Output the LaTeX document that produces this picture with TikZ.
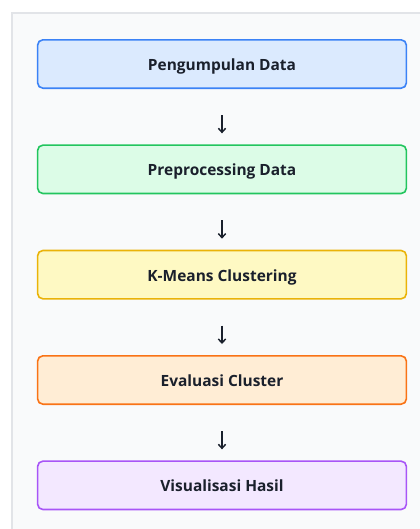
\documentclass[tikz,border=0pt]{standalone}
\usepackage{fontspec}
\setmainfont{Open Sans}
\usepackage{tikz}
\usetikzlibrary{positioning, arrows.meta}
\definecolor{panelfill}{HTML}{F9FAFB}
\definecolor{panelline}{HTML}{E2E4E8}
\definecolor{textdark}{HTML}{1A202C}
\definecolor{blueline}{HTML}{3B82F6}
\definecolor{bluefill}{HTML}{DBEAFE}
\definecolor{greenline}{HTML}{22C55E}
\definecolor{greenfill}{HTML}{DCFCE7}
\definecolor{yellowline}{HTML}{EAB308}
\definecolor{yellowfill}{HTML}{FEF9C3}
\definecolor{orangeline}{HTML}{F97316}
\definecolor{orangefill}{HTML}{FFEDD5}
\definecolor{purpleline}{HTML}{A855F7}
\definecolor{purplefill}{HTML}{F3E8FF}

\begin{document}
\begin{tikzpicture}[node distance=41.5pt, >={Straight Barb[length=3pt,width=5.5pt]},
    stagebox/.style={draw, rectangle, rounded corners=4pt, line width=1.2pt, minimum width=276.6pt, minimum height=36.3pt, text height=1.1em, text depth=0.13em, text=textdark, font=\bfseries\fontsize{11.6}{14}\selectfont},
    flow/.style={->, line width=1.1pt, textdark, shorten <=19.5pt, shorten >=8.25pt}]
    \useasboundingbox (0,0) rectangle (315pt,-396.75pt);
    % background panel
    \filldraw [draw=panelline, fill=panelfill, line width=0.8pt] (9pt,-9.75pt) rectangle (330pt,-410pt);

    \node [stagebox, fill=bluefill, draw=blueline] (collect) at (166.5pt,-48pt) {Pengumpulan Data};
    \node [stagebox, fill=greenfill, draw=greenline, below=of collect] (prep) {Preprocessing Data};
    \node [stagebox, fill=yellowfill, draw=yellowline, below=of prep] (kmeans) {K-Means Clustering};
    \node [stagebox, fill=orangefill, draw=orangeline, below=of kmeans] (eval) {Evaluasi Cluster};
    \node [stagebox, fill=purplefill, draw=purpleline, below=of eval] (vis) {Visualisasi Hasil};

    \draw [flow] (collect) -- (prep);
    \draw [flow] (prep) -- (kmeans);
    \draw [flow] (kmeans) -- (eval);
    \draw [flow] (eval) -- (vis);
\end{tikzpicture}
\end{document}
